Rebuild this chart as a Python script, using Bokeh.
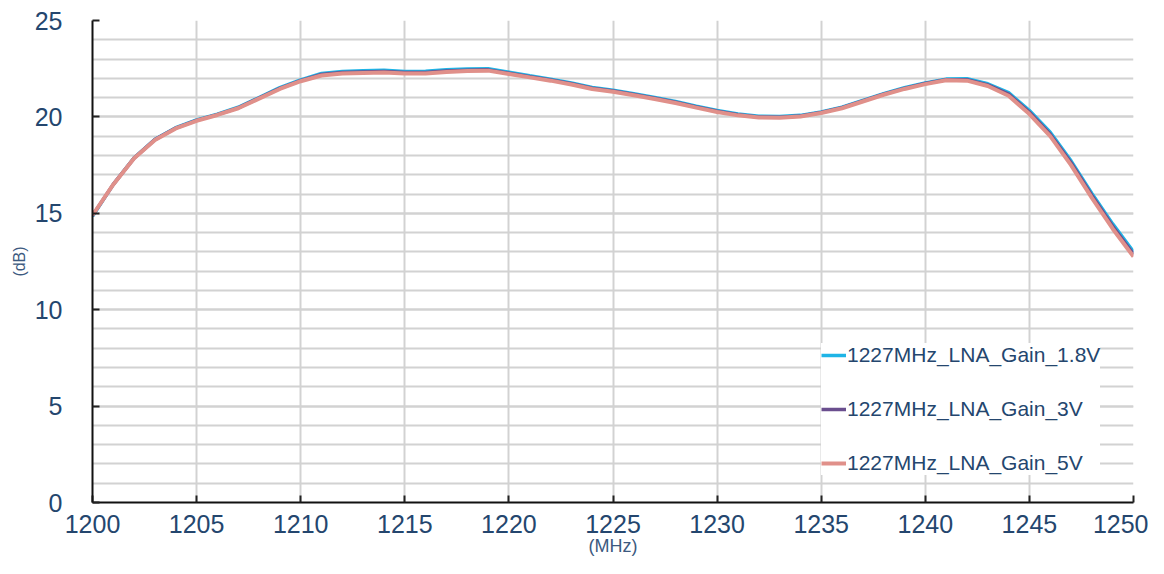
from bokeh.plotting import figure
from bokeh.models import Legend, LegendItem, FixedTicker, Range1d
from bokeh.embed import file_html
from bokeh.resources import INLINE

freq = list(range(1200, 1251))

gain_5v = [14.9, 16.5, 17.85, 18.8, 19.4, 19.8, 20.1, 20.45, 20.95, 21.45,
           21.85, 22.15, 22.25, 22.28, 22.3, 22.25, 22.25, 22.33, 22.38, 22.4,
           22.23, 22.05, 21.88, 21.68, 21.45, 21.3, 21.12, 20.93, 20.72, 20.48,
           20.25, 20.08, 19.97, 19.95, 20.02, 20.2, 20.45, 20.8, 21.15, 21.45,
           21.7, 21.9, 21.88, 21.6, 21.1, 20.15, 19.0, 17.5, 15.8, 14.2, 12.75]

gain_3v = [14.88, 16.5, 17.86, 18.82, 19.42, 19.82, 20.12, 20.47, 20.98, 21.48,
           21.88, 22.2, 22.3, 22.33, 22.35, 22.3, 22.3, 22.38, 22.42, 22.44,
           22.27, 22.09, 21.92, 21.72, 21.49, 21.34, 21.16, 20.97, 20.76, 20.52,
           20.29, 20.11, 20.0, 19.98, 20.05, 20.23, 20.48, 20.83, 21.18, 21.48,
           21.73, 21.93, 21.93, 21.66, 21.18, 20.24, 19.1, 17.62, 15.93, 14.33, 12.87]

gain_18v = [14.85, 16.5, 17.88, 18.84, 19.44, 19.84, 20.14, 20.5, 21.0, 21.52,
            21.92, 22.25, 22.36, 22.4, 22.42, 22.36, 22.37, 22.44, 22.48, 22.5,
            22.32, 22.13, 21.96, 21.76, 21.53, 21.38, 21.2, 21.01, 20.8, 20.56,
            20.33, 20.15, 20.04, 20.02, 20.08, 20.26, 20.5, 20.86, 21.21, 21.51,
            21.76, 21.96, 21.98, 21.72, 21.26, 20.33, 19.2, 17.72, 16.03, 14.45, 13.0]

series_names = ["1227MHz_LNA_Gain_1.8V", "1227MHz_LNA_Gain_3V", "1227MHz_LNA_Gain_5V"]
series_colors = ["#1EB4E6", "#6A4E8E", "#E0908A"]

x_ticks = [1200, 1205, 1210, 1215, 1220, 1225, 1230, 1235, 1240, 1245, 1250]
y_ticks = [0, 5, 10, 15, 20, 25]
y_minor = list(range(0, 26))
x_title = "(MHz)"
y_title = "(dB)"

text_color = "#24466E"
label_color = "#3C5A80"
grid_color = "#D2D2D2"

p = figure(width=1148, height=558, output_backend="svg", toolbar_location=None,
           x_range=Range1d(x_ticks[0], x_ticks[-1]), y_range=Range1d(y_ticks[0], y_ticks[-1]),
           min_border_left=92, min_border_right=15, min_border_top=20,
           min_border_bottom=56)
p.outline_line_color = None
p.background_fill_color = "white"

r1 = p.line(freq, gain_18v, line_color=series_colors[0], line_width=3.5)
r2 = p.line(freq, gain_3v, line_color=series_colors[1], line_width=3.5)
r3 = p.line(freq, gain_5v, line_color=series_colors[2], line_width=4)

# axes
xa = p.xaxis[0]
xa.ticker = FixedTicker(ticks=x_ticks)
xa.axis_line_color = "#111111"
xa.axis_line_width = 2
xa.major_tick_in = 7
xa.major_tick_out = 0
xa.major_tick_line_color = "#222222"
xa.major_tick_line_width = 2
xa.minor_tick_line_color = None
xa.major_label_text_font = "Liberation Sans"
xa.major_label_text_font_size = "25px"
xa.major_label_text_color = text_color
xa.major_label_standoff = 12
xa.axis_label = x_title
xa.axis_label_text_font = "Liberation Sans"
xa.axis_label_text_font_size = "18px"
xa.axis_label_text_font_style = "normal"
xa.axis_label_text_color = label_color
xa.axis_label_standoff = 0

ya = p.yaxis[0]
ya.ticker = FixedTicker(ticks=y_ticks, minor_ticks=y_minor)
ya.axis_line_color = "#111111"
ya.axis_line_width = 2
ya.major_tick_in = 7
ya.major_tick_out = 0
ya.major_tick_line_color = "#222222"
ya.major_tick_line_width = 2
ya.minor_tick_line_color = None
ya.major_label_text_font = "Liberation Sans"
ya.major_label_text_font_size = "25px"
ya.major_label_text_color = text_color
ya.major_label_standoff = 26
ya.axis_label = y_title
ya.axis_label_text_font = "Liberation Sans"
ya.axis_label_text_font_size = "16px"
ya.axis_label_text_font_style = "normal"
ya.axis_label_text_color = label_color
ya.axis_label_standoff = 4

p.xgrid[0].ticker = FixedTicker(ticks=x_ticks)
p.xgrid[0].grid_line_color = grid_color
p.xgrid[0].grid_line_width = 2
p.ygrid[0].ticker = FixedTicker(ticks=y_ticks, minor_ticks=y_minor)
p.ygrid[0].grid_line_color = grid_color
p.ygrid[0].grid_line_width = 2
p.ygrid[0].minor_grid_line_color = grid_color
p.ygrid[0].minor_grid_line_width = 2

legend = Legend(items=[LegendItem(label=series_names[0], renderers=[r1]),
                       LegendItem(label=series_names[1], renderers=[r2]),
                       LegendItem(label=series_names[2], renderers=[r3])],
                location=(729, 27))
legend.border_line_color = None
legend.background_fill_color = "white"
legend.background_fill_alpha = 1
legend.label_text_font = "Liberation Sans"
legend.label_text_font_size = "21px"
legend.label_text_color = text_color
legend.glyph_width = 25
legend.glyph_height = 20
legend.label_height = 24
legend.label_standoff = 1
legend.spacing = 30
legend.padding = 13
legend.margin = 0
p.add_layout(legend, "center")

open("out.html", "w").write(file_html(p, INLINE))
